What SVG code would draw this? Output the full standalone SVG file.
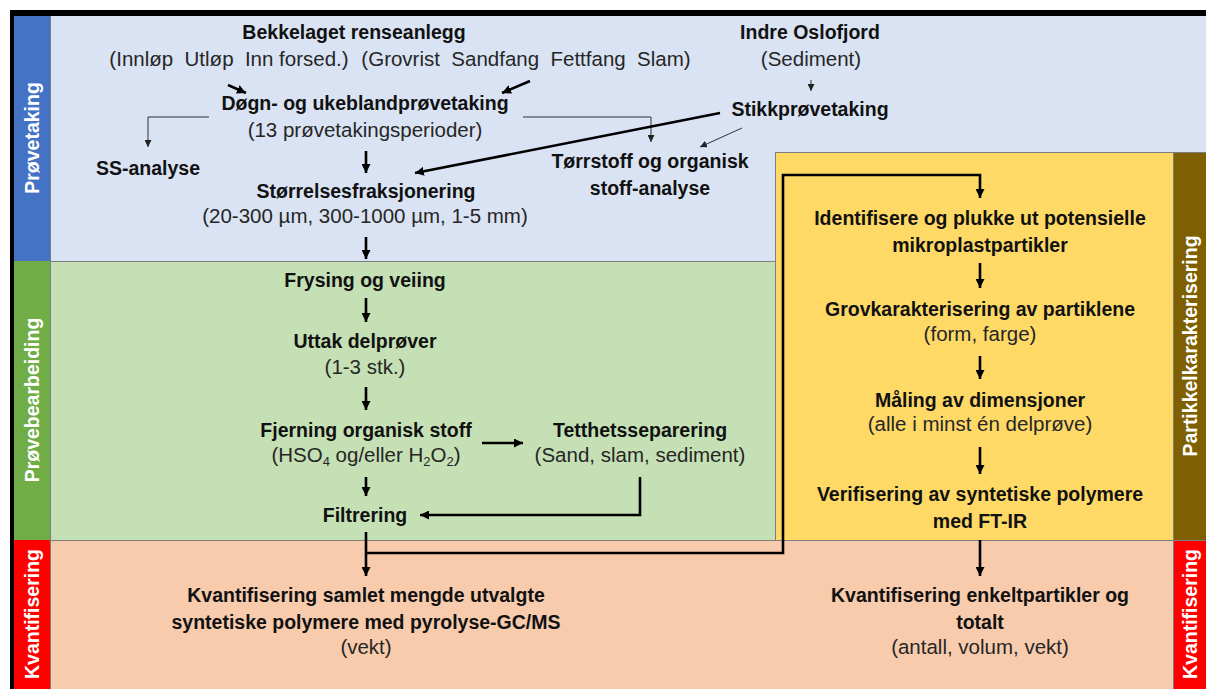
<svg xmlns="http://www.w3.org/2000/svg" width="1206" height="689" viewBox="0 0 1206 689">
<style>
.b{font-family:"Liberation Sans",Arial,sans-serif;font-weight:bold;font-size:19.5px;fill:#111;text-anchor:middle}
.r{font-family:"Liberation Sans",Arial,sans-serif;font-size:20.5px;fill:#262626;text-anchor:middle}
.side{font-family:"Liberation Sans",Arial,sans-serif;font-weight:bold;font-size:19.5px;fill:#fff;text-anchor:middle}
.thick{stroke:#000;stroke-width:2.6;fill:none}
.thin{stroke:#333;stroke-width:1;fill:none}
.edge{stroke:#7f7f7f;stroke-width:1;fill:none}
</style>
<defs>
<marker id="ah" viewBox="0 0 10 10" refX="10" refY="5" markerUnits="userSpaceOnUse" markerWidth="9" markerHeight="9" orient="auto"><path d="M0,0 L10,5 L0,10 z" fill="#000"/></marker>
<marker id="ahs" viewBox="0 0 10 10" refX="10" refY="5" markerUnits="userSpaceOnUse" markerWidth="7" markerHeight="7" orient="auto"><path d="M0,0 L10,5 L0,10 z" fill="#222"/></marker>
</defs>
<rect width="1206" height="689" fill="#fff"/>
<g id="panels">
<rect x="10" y="10" width="1196" height="6" fill="#000"/>
<rect x="10" y="10" width="4" height="679" fill="#000"/>
<rect x="50" y="16" width="1156" height="245" fill="#DAE3F3"/>
<rect x="50" y="261" width="725" height="279" fill="#C5E0B4"/>
<rect x="775" y="152" width="398" height="388" fill="#FFD966"/>
<rect x="1173" y="152" width="33" height="388" fill="#7F6000"/>
<rect x="50" y="540" width="1123" height="149" fill="#F8CBAD"/>
<rect x="1173" y="540" width="33" height="149" fill="#FF0000"/>
<rect x="14" y="16" width="36" height="245" fill="#4472C4"/>
<rect x="14" y="261" width="36" height="279" fill="#70AD47"/>
<rect x="14" y="540" width="36" height="149" fill="#FF0000"/>
<path class="edge" d="M50,261.5 H775 M775,152.5 H1206 M50,540.5 H1206 M50.5,16 V689 M775.5,152 V540 M1173.5,152 V689"/>
</g>
<g id="side-labels">
<text class="side" transform="translate(39,138) rotate(-90)">Prøvetaking</text>
<text class="side" transform="translate(39,400) rotate(-90)">Prøvebearbeiding</text>
<text class="side" transform="translate(39,614) rotate(-90)">Kvantifisering</text>
<text class="side" transform="translate(1197,346) rotate(-90)">Partikkelkarakterisering</text>
<text class="side" transform="translate(1197,614) rotate(-90)">Kvantifisering</text>
</g>
<g id="connectors">
<line class="thick" x1="228" y1="85" x2="246" y2="93" marker-end="url(#ah)"/>
<line class="thick" x1="530" y1="81" x2="502" y2="93" marker-end="url(#ah)"/>
<polyline class="thin" points="209,117 148,117 148,147" marker-end="url(#ahs)"/>
<polyline class="thin" points="523,117 651,117 651,142" marker-end="url(#ahs)"/>
<line class="thin" x1="811" y1="80" x2="811" y2="91" marker-end="url(#ahs)"/>
<line class="thick" x1="720" y1="113" x2="415" y2="173" marker-end="url(#ah)"/>
<line class="thin" x1="742" y1="128" x2="700" y2="147" marker-end="url(#ahs)"/>
<line class="thick" x1="366" y1="151" x2="366" y2="173" marker-end="url(#ah)"/>
<line class="thick" x1="366" y1="237" x2="366" y2="259" marker-end="url(#ah)"/>
<line class="thick" x1="366" y1="298" x2="366" y2="322" marker-end="url(#ah)"/>
<line class="thick" x1="366" y1="387" x2="366" y2="410" marker-end="url(#ah)"/>
<line class="thick" x1="366" y1="477" x2="366" y2="496" marker-end="url(#ah)"/>
<line class="thick" x1="482" y1="443" x2="523" y2="443" marker-end="url(#ah)"/>
<polyline class="thick" points="640,477 640,515 420,515" marker-end="url(#ah)"/>
<line class="thick" x1="366" y1="532" x2="366" y2="576" marker-end="url(#ah)"/>
<polyline class="thick" points="366,553 783,553 783,175 980,175 980,198" marker-end="url(#ah)"/>
<line class="thick" x1="980" y1="263" x2="980" y2="288" marker-end="url(#ah)"/>
<line class="thick" x1="980" y1="356" x2="980" y2="379" marker-end="url(#ah)"/>
<line class="thick" x1="980" y1="447" x2="980" y2="474" marker-end="url(#ah)"/>
<line class="thick" x1="980" y1="540" x2="980" y2="576" marker-end="url(#ah)"/>
</g>
<g id="n-bekkelaget"><text class="b" x="354" y="39">Bekkelaget renseanlegg</text></g>
<g id="n-innlop"><text class="r" x="229" y="66" xml:space="preserve">(Innløp  Utløp  Inn forsed.)</text></g>
<g id="n-grovrist"><text class="r" x="526" y="66" xml:space="preserve">(Grovrist  Sandfang  Fettfang  Slam)</text></g>
<g id="n-indre"><text class="b" x="810" y="39">Indre Oslofjord</text><text class="r" x="811" y="66">(Sediment)</text></g>
<g id="n-dogn"><text class="b" x="365" y="110">Døgn- og ukeblandprøvetaking</text><text class="r" x="365" y="137">(13 prøvetakingsperioder)</text></g>
<g id="n-stikk"><text class="b" x="810" y="116">Stikkprøvetaking</text></g>
<g id="n-ss"><text class="b" x="148" y="175">SS-analyse</text></g>
<g id="n-torrstoff"><text class="b" x="650" y="168">Tørrstoff og organisk</text><text class="b" x="650" y="195">stoff-analyse</text></g>
<g id="n-storrelse"><text class="b" x="366" y="198">Størrelsesfraksjonering</text><text class="r" x="365" y="223">(20-300 µm, 300-1000 µm, 1-5 mm)</text></g>
<g id="n-frysing"><text class="b" x="365" y="287">Frysing og veiing</text></g>
<g id="n-uttak"><text class="b" x="365" y="348">Uttak delprøver</text><text class="r" x="365" y="374">(1-3 stk.)</text></g>
<g id="n-fjerning"><text class="b" x="366" y="437">Fjerning organisk stoff</text><text class="r" x="366" y="462">(HSO<tspan font-size="13" dy="4">4</tspan><tspan dy="-4"> og/eller H</tspan><tspan font-size="13" dy="4">2</tspan><tspan dy="-4">O</tspan><tspan font-size="13" dy="4">2</tspan><tspan dy="-4">)</tspan></text></g>
<g id="n-tetthet"><text class="b" x="640" y="437">Tetthetsseparering</text><text class="r" x="640" y="462">(Sand, slam, sediment)</text></g>
<g id="n-filtrering"><text class="b" x="365" y="522">Filtrering</text></g>
<g id="n-identifisere"><text class="b" x="980" y="225">Identifisere og plukke ut potensielle</text><text class="b" x="980" y="252">mikroplastpartikler</text></g>
<g id="n-grovkar"><text class="b" x="980" y="316">Grovkarakterisering av partiklene</text><text class="r" x="980" y="341">(form, farge)</text></g>
<g id="n-maling"><text class="b" x="980" y="407">Måling av dimensjoner</text><text class="r" x="980" y="431">(alle i minst én delprøve)</text></g>
<g id="n-verifisering"><text class="b" x="980" y="501">Verifisering av syntetiske polymere</text><text class="b" x="980" y="528">med FT-IR</text></g>
<g id="n-kvant-samlet"><text class="b" x="366" y="602">Kvantifisering samlet mengde utvalgte</text><text class="b" x="366" y="629">syntetiske polymere med pyrolyse-GC/MS</text><text class="r" x="366" y="654">(vekt)</text></g>
<g id="n-kvant-enkelt"><text class="b" x="980" y="602">Kvantifisering enkeltpartikler og</text><text class="b" x="980" y="629">totalt</text><text class="r" x="980" y="654">(antall, volum, vekt)</text></g>
</svg>
